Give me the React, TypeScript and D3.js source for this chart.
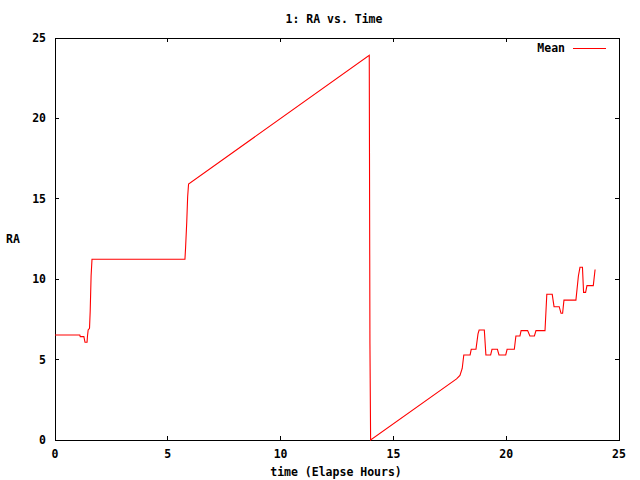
import React from 'react';
import * as d3 from 'd3';

// RA (mean) vs elapsed hours
const hours = [
  0, 1.1, 1.12, 1.28, 1.33, 1.42, 1.44, 1.47, 1.53, 1.56, 1.6, 1.64,
  5.76, 5.79, 5.84, 5.88, 5.92,
  13.93, 13.94, 13.96, 13.99,
  17.8, 17.95, 18.05, 18.12, 18.4, 18.45, 18.66, 18.75, 18.8, 19.03, 19.1, 19.31,
  19.37, 19.61, 19.68, 19.98, 20.04, 20.36, 20.43, 20.61, 20.66, 20.95, 21.05,
  21.25, 21.32, 21.72, 21.8, 22.04, 22.12, 22.35, 22.43, 22.5, 22.56, 23.09,
  23.2, 23.27, 23.38, 23.43, 23.52, 23.58, 23.86, 23.94,
];
const raMean = [
  6.53, 6.53, 6.43, 6.43, 6.08, 6.08, 6.47, 6.84, 6.95, 8.0, 10.2, 11.24,
  11.24, 12.0, 13.56, 15.13, 15.92,
  23.92, 17.9, 6.0, 0,
  3.8, 4.02, 4.45, 5.29, 5.29, 5.64, 5.64, 6.6, 6.84, 6.84, 5.29, 5.29,
  5.64, 5.64, 5.29, 5.29, 5.64, 5.64, 6.47, 6.47, 6.8, 6.8, 6.47,
  6.47, 6.8, 6.8, 9.06, 9.06, 8.29, 8.29, 7.88, 7.88, 8.7, 8.7,
  10.2, 10.74, 10.74, 9.18, 9.18, 9.6, 9.6, 10.6,
];
const xTicks = [0, 5, 10, 15, 20, 25];
const yTicks = [0, 5, 10, 15, 20, 25];

const W = 640;
const H = 480;
const left = 55;
const right = 619;
const top = 38;
const bottom = 440;
const tick = 4;
const font = '"DejaVu Sans Mono", "Liberation Mono", monospace';

export default function App() {
  const x = d3.scaleLinear().domain([0, 25]).range([left, right]);
  const y = d3.scaleLinear().domain([0, 25]).range([bottom, top]);
  const pts: [number, number][] = hours.map((h, i) => [h, raMean[i]]);
  const line = d3.line<[number, number]>().x(d => x(d[0])).y(d => y(d[1]));

  const txt = { fontFamily: font, fontSize: 11.5, fontWeight: 'bold' as const, fill: '#000' };

  return (
    <div style={{ position: 'absolute', left: 0, top: 0 }}>
      <svg width={W} height={H} style={{ display: 'block', background: '#fff' }}>
        <rect x={0} y={0} width={W} height={H} fill="#fff" />
        <g shapeRendering="crispEdges" stroke="#000" strokeWidth={1}>
          {xTicks.map(t => (
            <g key={'x' + t}>
              <line x1={x(t)} x2={x(t)} y1={bottom} y2={bottom - tick} />
              <line x1={x(t)} x2={x(t)} y1={top} y2={top + tick} />
            </g>
          ))}
          {yTicks.map(t => (
            <g key={'y' + t}>
              <line x1={left} x2={left + tick} y1={y(t)} y2={y(t)} />
              <line x1={right} x2={right - tick} y1={y(t)} y2={y(t)} />
            </g>
          ))}
          <rect x={left} y={top} width={right - left} height={bottom - top} fill="none" />
        </g>
        {xTicks.map(t => (
          <text key={'xl' + t} x={x(t)} y={458} textAnchor="middle" {...txt}>{t}</text>
        ))}
        {yTicks.map(t => (
          <text key={'yl' + t} x={46} y={y(t) + 4} textAnchor="end" {...txt}>{t}</text>
        ))}
        <text x={334} y={23} textAnchor="middle" {...txt}>1: RA vs. Time</text>
        <text x={336} y={476} textAnchor="middle" {...txt}>time (Elapse Hours)</text>
        <text x={13} y={243} textAnchor="middle" {...txt}>RA</text>
        <text x={565} y={52} textAnchor="end" {...txt}>Mean</text>
        <line x1={573} x2={606} y1={48.5} y2={48.5} stroke="#ff0000" strokeWidth={1} shapeRendering="crispEdges" />
        <path d={line(pts) || ''} fill="none" stroke="#ff0000" strokeWidth={1.1} />
      </svg>
    </div>
  );
}
